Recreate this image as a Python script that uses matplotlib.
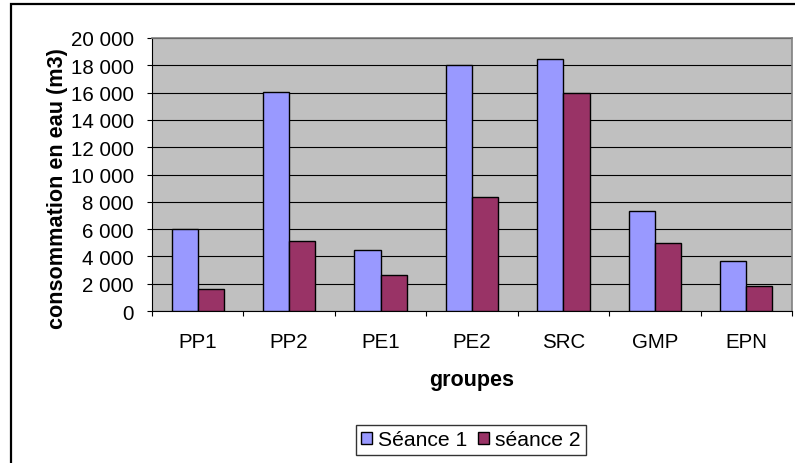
import matplotlib
matplotlib.use("Agg")
import matplotlib.pyplot as plt
import numpy as np
from matplotlib.ticker import FuncFormatter
from matplotlib.patches import Rectangle

categories = ["PP1", "PP2", "PE1", "PE2", "SRC", "GMP", "EPN"]
seance1 = [6000, 16050, 4470, 18000, 18450, 7300, 3650]
seance2 = [1600, 5100, 2650, 8350, 15950, 5000, 1800]
series_names = ["Séance 1", "séance 2"]
yticks = list(range(0, 20001, 2000))

plt.rcParams['font.family'] = ['Liberation Sans', 'DejaVu Sans']

W, H = 795, 464
fig = plt.figure(figsize=(W/100, H/100), dpi=100)
ax = fig.add_axes([152/W, 1-312/H, (792-152)/W, (312-39)/H])
ax.set_facecolor("#C0C0C0")

x = np.arange(len(categories))
w = 0.286
ax.bar(x - w/2, seance1, w, color="#9999FF", edgecolor="black", linewidth=1.0, label=series_names[0], zorder=3)
ax.bar(x + w/2, seance2, w, color="#993366", edgecolor="black", linewidth=1.0, label=series_names[1], zorder=3)

ax.set_xlim(-0.5, len(categories) - 0.5)
ax.set_ylim(0, 20000)
ax.set_yticks(yticks)
ax.yaxis.set_major_formatter(FuncFormatter(lambda v, p: f"{int(v):,}".replace(",", " ")))
ax.grid(axis="y", color="black", linewidth=0.8, zorder=1)

ax.set_xticks(x)
ax.set_xticklabels(categories, fontsize=14.8)
ax.set_xticks(np.arange(-0.5, len(categories)), minor=True)
ax.tick_params(axis="x", which="major", length=0, pad=15)
ax.tick_params(axis="x", which="minor", length=3.6, width=0.8, color="black")
ax.tick_params(axis="y", length=3.6, width=0.8, labelsize=14.8, pad=9.5)

for s in ["top", "right"]:
    ax.spines[s].set_color("#808080")
    ax.spines[s].set_linewidth(1.2)
for s in ["left", "bottom"]:
    ax.spines[s].set_color("black")
    ax.spines[s].set_linewidth(0.8)

fig.text(57/W, 1-189/H, "consommation en eau (m3)", rotation=90, ha="center", va="center",
         fontsize=15.6, fontweight="bold")
fig.text(472/W, 1-381/H, "groupes", ha="center", va="center", fontsize=15.5, fontweight="bold")

leg = fig.legend(loc="center", bbox_to_anchor=(471/W, 1-441/H), ncol=2, fontsize=15.2,
                 frameon=True, fancybox=False, edgecolor="black", handlelength=0.5,
                 handleheight=0.5, handletextpad=0.3, columnspacing=0.5, borderpad=0.25,
                 borderaxespad=0)
leg.get_frame().set_linewidth(1)

fig.patches.append(Rectangle((11/W, -0.05), 1.2, 1 - 4.5/H + 0.05, transform=fig.transFigure,
                             fill=False, edgecolor="black", linewidth=1.6))

fig.savefig("out.png", dpi=100)
